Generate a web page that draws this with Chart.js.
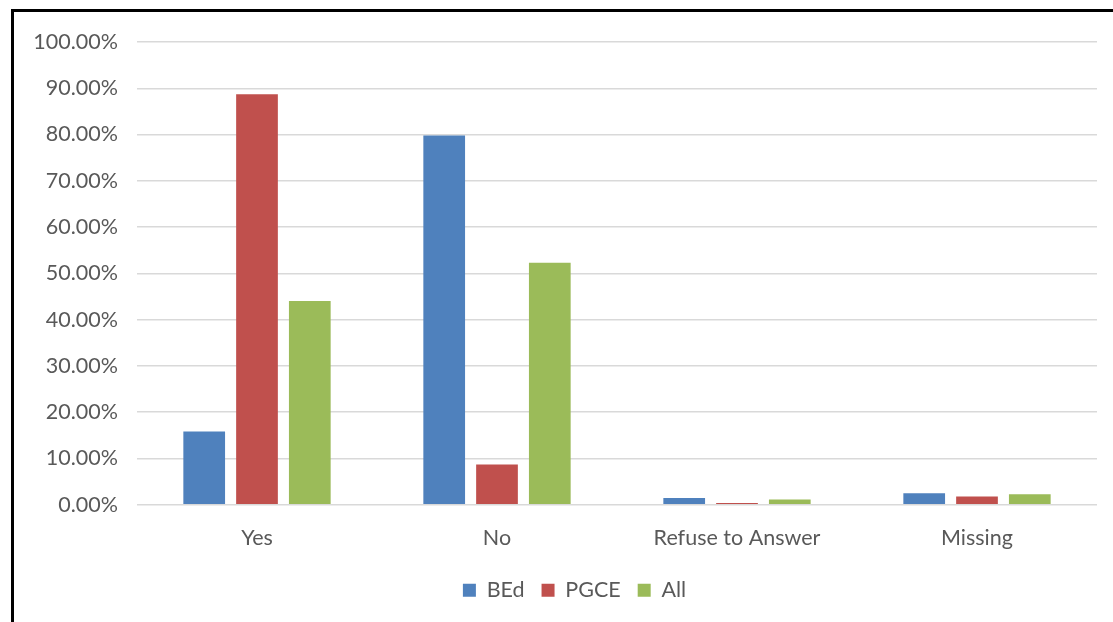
<!DOCTYPE html>
<html>
<head>
<meta charset="utf-8">
<script src="https://cdn.jsdelivr.net/npm/chart.js@4.4.0/dist/chart.umd.min.js"></script>
<style>
    html, body { margin: 0; padding: 0; background: #fff; }
    #wrap { position: relative; width: 1113px; height: 622px; overflow: hidden; }
    #frame { position: absolute; left: 11px; top: 9px; width: 1120px; height: 640px; border: 3px solid #000; box-sizing: border-box; pointer-events: none; }
    canvas { position: absolute; left: 0; top: 0; }
</style>
</head>
<body>
<div id="wrap">
    <canvas id="myChart" width="1113" height="622"></canvas>
    <div id="frame"></div>
</div>
<script>
const categories = ['Yes', 'No', 'Refuse to Answer', 'Missing'];
const bed = [15.8, 79.8, 1.45, 2.5];
const pgce = [88.7, 8.7, 0.37, 1.75];
const all = [44.0, 52.3, 1.1, 2.25];

// legend in the original sits a bit right of centre
const shiftLegend = {
    id: 'shiftLegend',
    afterUpdate(chart) {
        chart.legend.left += 26;
        chart.legend.right += 26;
    }
};

const ctx = document.getElementById('myChart');
const myChart = new Chart(ctx, {
    type: 'bar',
    data: {
        labels: categories,
        datasets: [{
            label: 'BEd',
            data: bed,
            backgroundColor: '#4f81bd',
        },
        {
            label: 'PGCE',
            data: pgce,
            backgroundColor: '#c0504d',
        },
        {
            label: 'All',
            data: all,
            backgroundColor: '#9bbb59',
        }]
    },
    plugins: [shiftLegend],
    options: {
        responsive: false,
        animation: false,
        devicePixelRatio: 1,
        layout: {
            padding: { left: 0, right: 16, top: 42, bottom: 11 },
        },
        datasets: {
            bar: {
                categoryPercentage: 0.66,
                barPercentage: 0.79,
            }
        },
        plugins: {
            legend: {
                position: 'bottom',
                labels: {
                    boxWidth: 13,
                    boxHeight: 13,
                    padding: 17,
                    color: '#595959',
                    font: { family: 'Lato', size: 21.5 },
                },
            },
            tooltip: { enabled: false },
        },
        scales: {
            x: {
                grid: { display: false },
                border: { display: false },
                ticks: {
                    color: '#595959',
                    padding: 12,
                    font: { family: 'Lato', size: 21.5 },
                },
            },
            y: {
                min: 0,
                max: 100,
                afterFit: (scale) => { scale.width = 137; },
                grid: { color: '#d9d9d9', lineWidth: 1.5, drawTicks: false },
                border: { display: false },
                ticks: {
                    stepSize: 10,
                    padding: 19,
                    color: '#595959',
                    font: { family: 'Lato', size: 21.5 },
                    callback: (v) => v.toFixed(2) + '%',
                },
            }
        }
    }
});
</script>
</body>
</html>
